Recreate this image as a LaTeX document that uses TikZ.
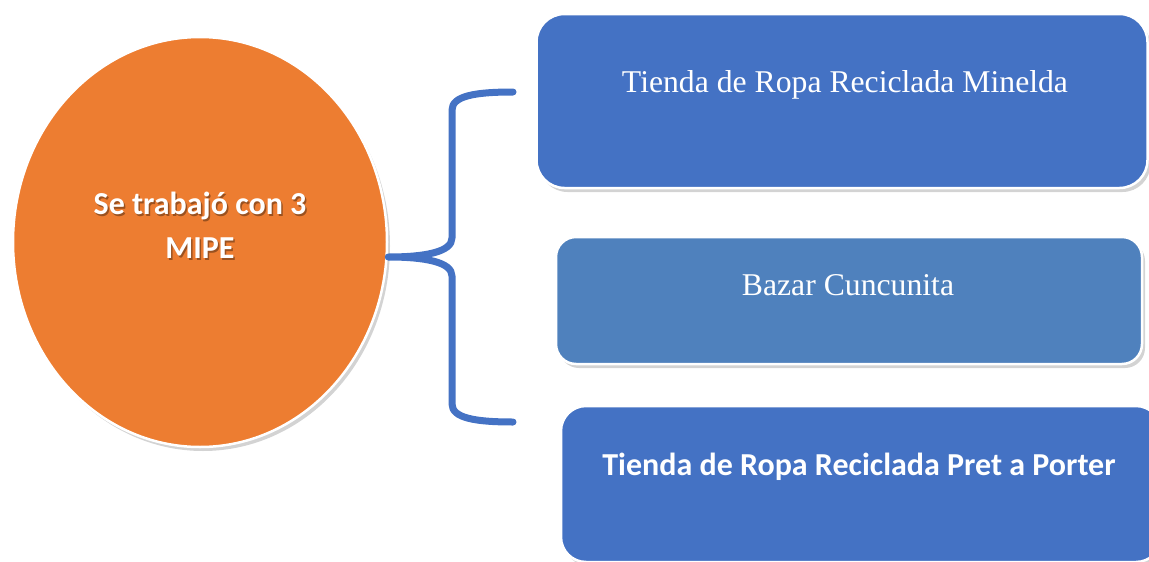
\documentclass[tikz,border=0pt]{standalone}
\usepackage{fontspec}
\setmainfont{Liberation Serif}
\newfontfamily\calib{Carlito}
\usetikzlibrary{shadows,shapes.geometric}
\definecolor{orng}{HTML}{ED7D31}
\definecolor{blu}{HTML}{4472C4}
\definecolor{stl}{HTML}{4F81BD}
\tikzset{
  boxshape/.style={draw=white, line width=2.5pt, rounded corners=#1, inner sep=0pt,
    drop shadow={shadow xshift=3pt, shadow yshift=-4pt, opacity=0.35}},
  seriftxt/.style={text=white, font=\fontsize{31.7}{36}\selectfont, inner sep=0pt},
  boldtxt/.style={text=white, font=\calib\bfseries\fontsize{32}{44}\selectfont, inner sep=0pt, align=center},
  bracestyle/.style={draw=blu, line width=7pt, line cap=round, line join=round}
}
\begin{document}
\begin{tikzpicture}[x=1pt,y=-1pt]
\useasboundingbox (0,0) rectangle (1149,562);
% ellipse
\node[ellipse, draw=white, line width=2.5pt, fill=orng, minimum width=374pt, minimum height=410pt, inner sep=0pt,
  drop shadow={shadow xshift=3pt, shadow yshift=-4pt, opacity=0.35}] (el) at (200,242) {};
\node[boldtxt, text=black, opacity=0.35] (elsh) at (201.5,227) {Se trabajó con 3\\MIPE};
\node[boldtxt] (eltxt) at (200,225) {Se trabajó con 3\\MIPE};
% boxes
\node[boxshape=28pt, fill=blu, minimum width=611pt, minimum height=174pt] (b1) at (842,101) {};
\node[seriftxt] (t1) at (845,85) {Tienda de Ropa Reciclada Minelda};
\node[boxshape=20pt, fill=stl, minimum width=586pt, minimum height=127pt] (b2) at (849,300.5) {};
\node[seriftxt] (t2) at (848,285) {Bazar Cuncunita};
\node[boxshape=25pt, fill=blu, minimum width=600pt, minimum height=156pt] (b3) at (861,484) {};
\node[boldtxt] (t3) at (859,467) {Tienda de Ropa Reciclada Pret a Porter};
% brace
\coordinate (tip) at (el.east |- 0,257);
\coordinate (top) at (513,92);
\coordinate (bot) at (513,422);
\draw[bracestyle] (top) .. controls (475,92) and (452,96) .. (452,110) -- (452,238)
  .. controls (452,252) and (425,257) .. (tip)
  .. controls (425,257) and (452,262) .. (452,276) -- (452,404)
  .. controls (452,418) and (475,422) .. (bot);
\end{tikzpicture}
\end{document}
